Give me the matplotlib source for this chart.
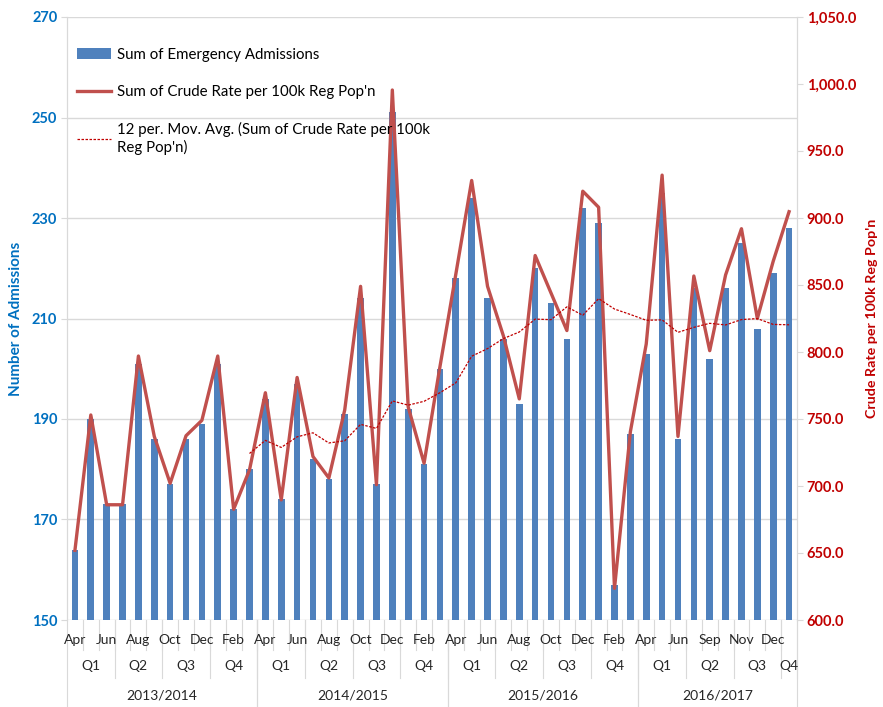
import matplotlib
matplotlib.use("Agg")
import matplotlib.pyplot as plt
from matplotlib.patches import Patch
from matplotlib.lines import Line2D
import numpy as np
import pandas as pd


# data
years = ["2013/2014", "2014/2015", "2015/2016", "2016/2017"]
quarters = ["Q1", "Q2", "Q3", "Q4"]
fy_months = ["Apr", "May", "Jun", "Jul", "Aug", "Sep",
             "Oct", "Nov", "Dec", "Jan", "Feb", "Mar"]
months_last = ["Apr", "May", "Jun", "Jul", "Sep", "Aug",
               "Nov", "Oct", "Dec", "Jan"]
months_per_quarter_last = [3, 3, 3, 1]

admissions = [164, 190, 173, 173, 201, 186, 177, 186, 189, 201, 172, 180,
              194, 174, 197, 182, 178, 191, 214, 177, 251, 192, 181, 200,
              218, 234, 214, 206, 193, 220, 213, 206, 232, 229, 157, 187,
              203, 235, 186, 216, 202, 216, 225, 208, 219, 228]
crude_rate = [652, 753, 686, 686, 797, 737, 702, 737.5, 749, 797, 682.6, 712,
              769.6, 689.6, 781, 722, 706, 756.7, 849, 701, 995.5, 759, 717, 789,
              858, 928, 849, 812, 765, 872, 844, 816, 920, 908, 623.6, 740.5,
              806, 932, 737, 856.7, 801, 857.5, 892, 825, 867.7, 904.7]

left_ticks = [150, 170, 190, 210, 230, 250, 270]
right_ticks = [600, 650, 700, 750, 800, 850, 900, 950, 1000, 1050]

BLUE_TXT = "#0070C0"
RED_TXT = "#C00000"
BAR_COLOR = "#4F81BD"
LINE_COLOR = "#C0504D"
GRID = "#D9D9D9"
FONT = "Lato"


def build_categories():
    month_labels, q_groups, y_groups = [], [], []
    for yi, y in enumerate(years):
        start = len(month_labels)
        if yi < len(years) - 1:
            ms = fy_months
            counts = [3, 3, 3, 3]
        else:
            ms = months_last
            counts = months_per_quarter_last
        month_labels += ms
        pos = start
        for q, c in zip(quarters, counts):
            q_groups.append((q, pos, pos + c - 1))
            pos += c
        y_groups.append((y, start, len(month_labels) - 1))
    return month_labels, q_groups, y_groups


def main():
    plt.rcParams["font.family"] = [FONT, "DejaVu Sans"]
    month_labels, q_groups, y_groups = build_categories()
    x = np.arange(len(admissions))
    mov_avg = pd.Series(crude_rate).rolling(12).mean()

    fig = plt.figure(figsize=(8.83, 7.07), dpi=100)
    ax = fig.add_axes([67 / 883, 87 / 707, 730 / 883, 603 / 707])
    ax2 = ax.twinx()

    ax.bar(x, admissions, width=0.42, color=BAR_COLOR, zorder=2)
    ax2.plot(x, crude_rate, color=LINE_COLOR, lw=2.4, zorder=3)
    ax2.plot(x, mov_avg, color=RED_TXT, lw=0.9, ls=(0, (2, 1.2)), zorder=3)

    ax.set_xlim(-0.5, len(x) - 0.5)
    ax.set_ylim(150, 270)
    ax.set_yticks(left_ticks)
    ax2.set_ylim(600, 1050)
    ax2.set_yticks(right_ticks)
    ax2.set_yticklabels(["{:,.1f}".format(v) for v in right_ticks])

    ax.grid(axis="y", color=GRID, lw=1, zorder=0)
    ax.set_axisbelow(True)
    for a in (ax, ax2):
        for s in ("top", "bottom"):
            a.spines[s].set_visible(False)
        a.spines["left"].set_color(GRID)
        a.spines["right"].set_color(GRID)
    ax.tick_params(axis="y", colors=GRID, length=4, labelcolor=BLUE_TXT,
                   labelsize=10.5, pad=3)
    ax2.tick_params(axis="y", colors=GRID, length=4, labelcolor=RED_TXT,
                    labelsize=10.5, pad=3)
    for lab in ax.get_yticklabels():
        lab.set_fontweight("bold")
    for lab in ax2.get_yticklabels():
        lab.set_fontweight("bold")

    ax.set_ylabel("Number of Admissions", color=BLUE_TXT, fontweight="bold",
                  fontsize=11, labelpad=6)
    ax2.set_ylabel("Crude Rate per 100k Reg Pop'n", color=RED_TXT,
                   fontweight="bold", fontsize=10.3, labelpad=7)

    # multi-level category axis
    ax.set_xticks([])
    tr = ax.get_xaxis_transform()
    px = 1 / 603
    month_y, quarter_y, year_y = -20 * px, -46 * px, -75 * px
    for i, m in enumerate(month_labels):
        if i % 2 == 0:
            ax.text(i, month_y, m, transform=tr, ha="center", va="center",
                    fontsize=10, color="#262626")
    for i in range(1, len(x)):
        ax.plot([i - 0.5, i - 0.5], [0, -30 * px], transform=tr, color=GRID,
                lw=0.8, clip_on=False)
    for q, a, b in q_groups:
        ax.text((a + b) / 2, quarter_y, q, transform=tr, ha="center",
                va="center", fontsize=10, color="#262626")
        ax.plot([b + 0.5, b + 0.5], [0, -58 * px], transform=tr, color=GRID,
                lw=0.8, clip_on=False)
    for yl, a, b in y_groups:
        ax.text((a + b) / 2, year_y, yl, transform=tr, ha="center",
                va="center", fontsize=10, color="#262626")
        for edge in (a - 0.5, b + 0.5):
            ax.plot([edge, edge], [0, -90 * px], transform=tr, color=GRID,
                    lw=0.8, clip_on=False)

    # legend
    handles = [
        Patch(facecolor=BAR_COLOR),
        Line2D([], [], color=LINE_COLOR, lw=2.4),
        Line2D([], [], color=RED_TXT, lw=0.9, ls=(0, (2, 1.2))),
    ]
    labels = [
        "Sum of Emergency Admissions",
        "Sum of Crude Rate per 100k Reg Pop'n",
        "12 per. Mov. Avg. (Sum of Crude Rate per 100k\nReg Pop'n)",
    ]
    ax2.legend(handles, labels, loc="upper left", bbox_to_anchor=(0.0, 0.965),
               frameon=False, fontsize=10.8, handlelength=2.3,
               handletextpad=0.35, labelspacing=1.55, borderaxespad=0.25)

    fig.savefig("out.png", dpi=100)


if __name__ == "__main__":
    main()
